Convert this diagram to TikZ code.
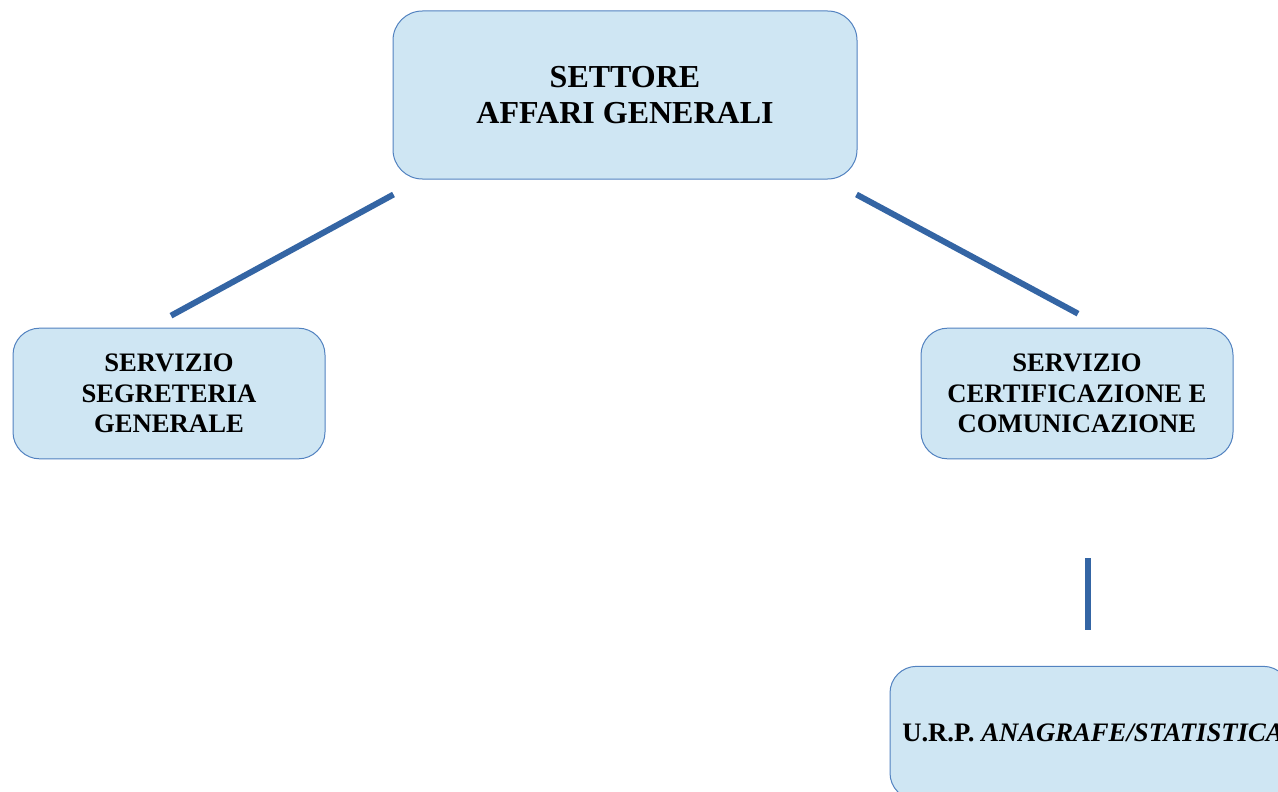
\documentclass[tikz,border=0pt]{standalone}
\usepackage{fontspec}
\setmainfont{Liberation Serif}
\usetikzlibrary{calc}

\definecolor{boxfill}{RGB}{207,230,243}
\definecolor{boxline}{RGB}{82,130,192}
\definecolor{linkblue}{RGB}{52,101,164}

\tikzset{
  ufficio/.style={draw=boxline, fill=boxfill, line width=0.75pt, rounded corners=20pt,
    inner sep=0pt, align=center, font=\bfseries\fontsize{20}{23}\selectfont},
  link/.style={draw=linkblue, line width=4.5pt}
}

\begin{document}
\begin{tikzpicture}[x=0.75pt,y=0.75pt,yscale=-1,xscale=1]
\useasboundingbox (0,0) rectangle (1278,792);

% Settore
\node [ufficio, rounded corners=22pt, minimum width=348pt, minimum height=126pt,
  font=\bfseries\fontsize{24}{27.6}\selectfont] (settore) at (625,95) {SETTORE\\AFFARI GENERALI};
% Servizi
\node [ufficio, minimum width=234pt, minimum height=98pt] (segreteria) at (169,393.5) {SERVIZIO\\SEGRETERIA\\GENERALE};
\node [ufficio, minimum width=234pt, minimum height=98pt] (certificazione) at (1077,393.5) {SERVIZIO\\CERTIFICAZIONE E\\COMUNICAZIONE};
% U.R.P. (runs off the page)
\node [ufficio, minimum width=300pt, minimum height=100pt] (urp) at (1090,733) {};
\node [anchor=base west, inner sep=0pt, font=\bfseries\fontsize{20}{23}\selectfont] (urptext) at (902,741) {U.R.P. \textit{ANAGRAFE/STATISTICA}};

% Links
\draw [link] ($(settore.south west)+(1,15)$) -- ($(segreteria.north)+(2,-12)$);
\draw [link] ($(settore.south east)+(-1,15)$) -- ($(certificazione.north)+(1,-14)$);
\draw [link] ($(certificazione.south)+(11,99)$) -- ($(urp.north)+(-2,-36)$);

\end{tikzpicture}
\end{document}
